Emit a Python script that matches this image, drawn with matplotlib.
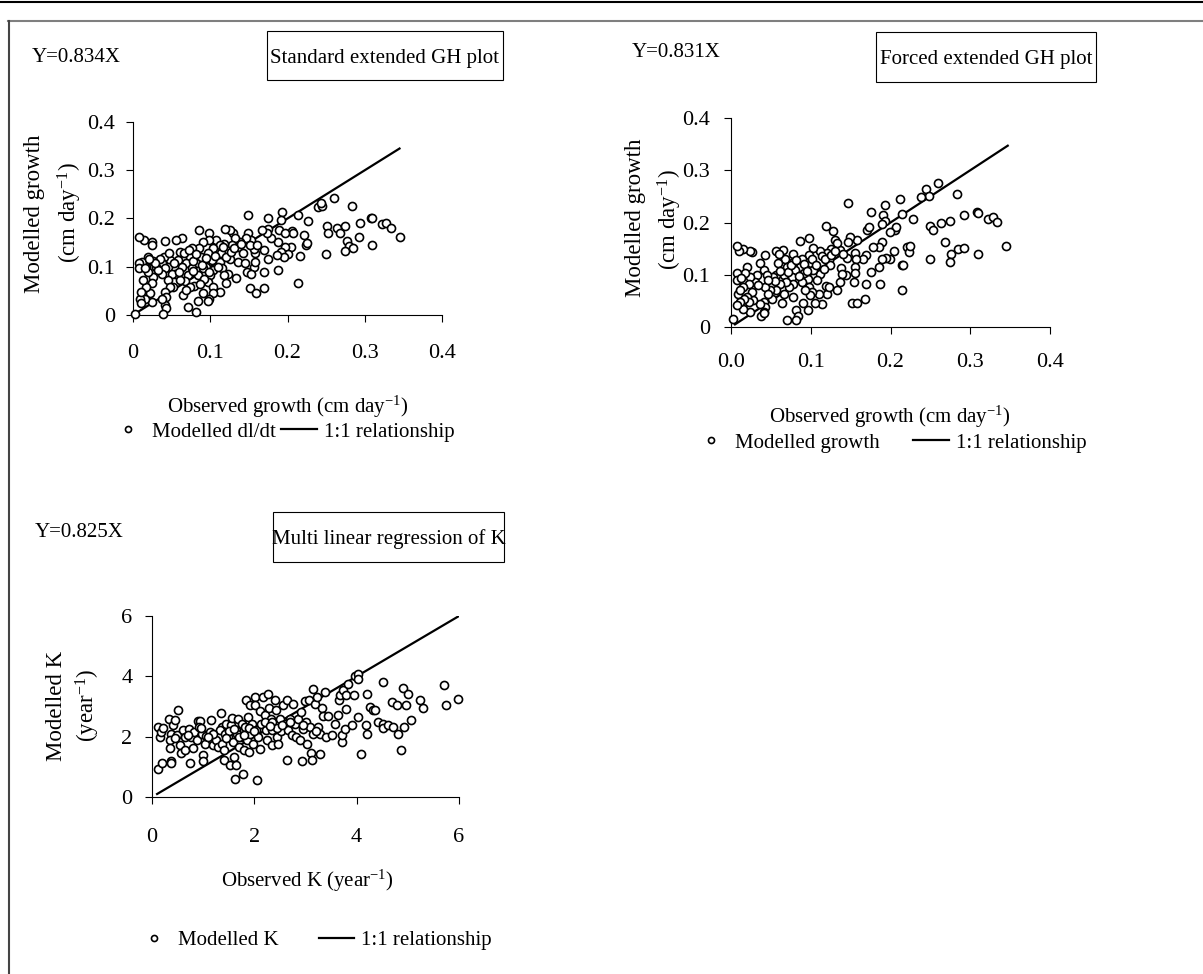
import numpy as np
import matplotlib
matplotlib.use("Agg")
import matplotlib.pyplot as plt
from matplotlib.lines import Line2D
from matplotlib.patches import Rectangle
from matplotlib.ticker import FixedLocator

plt.rcParams['font.family'] = ['Liberation Serif', 'DejaVu Serif']
plt.rcParams['mathtext.fontset'] = 'custom'
plt.rcParams['mathtext.rm'] = 'Liberation Serif'
plt.rcParams['mathtext.it'] = 'Liberation Serif:italic'

# ---- data (observed, modelled) ----
std_gh = [
    (0.149,0.207),(0.175,0.200),(0.193,0.214),(0.214,0.207),(0.227,0.194),(0.239,0.224),(0.245,0.226),(0.243,0.233),(0.260,0.243),(0.283,0.226),
    (0.251,0.185),(0.253,0.169),(0.264,0.181),(0.268,0.169),(0.275,0.184),(0.277,0.154),(0.279,0.143),(0.275,0.133),(0.285,0.138),(0.292,0.162),
    (0.294,0.191),(0.308,0.200),(0.310,0.200),(0.310,0.146),(0.322,0.188),(0.328,0.191),(0.334,0.181),(0.345,0.161),(0.250,0.126),(0.214,0.067),
    (0.216,0.123),(0.221,0.166),(0.224,0.145),(0.225,0.150),(0.206,0.174),(0.207,0.169),(0.204,0.141),(0.197,0.141),(0.200,0.126),(0.192,0.131),
    (0.195,0.121),(0.188,0.093),(0.186,0.124),(0.188,0.152),(0.189,0.176),(0.197,0.169),(0.191,0.197),(0.178,0.159),(0.175,0.179),(0.173,0.169),
    (0.167,0.176),(0.170,0.134),(0.175,0.117),(0.169,0.090),(0.170,0.055),(0.152,0.055),(0.159,0.045),(0.156,0.100),(0.158,0.110),(0.158,0.128),
    (0.156,0.136),(0.147,0.090),(0.153,0.085),(0.149,0.169),(0.153,0.155),(0.146,0.159),(0.151,0.145),(0.160,0.145),(0.138,0.152),(0.136,0.141),
    (0.136,0.110),(0.145,0.107),(0.130,0.169),(0.125,0.176),(0.132,0.159),(0.128,0.145),(0.133,0.077),(0.123,0.084),(0.119,0.179),(0.118,0.148),
    (0.121,0.134),(0.125,0.117),(0.108,0.155),(0.112,0.145),(0.114,0.128),(0.112,0.110),(0.115,0.097),(0.118,0.083),(0.121,0.067),(0.112,0.048),
    (0.099,0.169),(0.099,0.155),(0.104,0.138),(0.097,0.128),(0.102,0.114),(0.095,0.100),(0.104,0.093),(0.100,0.083),(0.097,0.069),(0.104,0.059),
    (0.104,0.045),(0.099,0.034),(0.097,0.028),(0.086,0.176),(0.091,0.152),(0.086,0.138),(0.088,0.121),(0.082,0.107),(0.091,0.097),(0.084,0.083),
    (0.092,0.074),(0.079,0.060),(0.091,0.045),(0.084,0.029),(0.082,0.007),(0.076,0.138),(0.074,0.121),(0.069,0.107),(0.076,0.097),(0.071,0.083),
    (0.067,0.070),(0.074,0.059),(0.065,0.041),(0.071,0.017),(0.064,0.159),(0.056,0.155),(0.061,0.131),(0.058,0.114),(0.063,0.100),(0.054,0.086),
    (0.061,0.072),(0.052,0.059),(0.048,0.114),(0.045,0.100),(0.050,0.086),(0.045,0.072),(0.048,0.059),(0.042,0.154),(0.040,0.121),(0.037,0.107),
    (0.041,0.097),(0.037,0.086),(0.041,0.048),(0.043,0.038),(0.041,0.021),(0.043,0.014),(0.039,0.003),(0.037,0.034),(0.030,0.100),(0.035,0.117),
    (0.026,0.112),(0.025,0.152),(0.025,0.145),(0.026,0.079),(0.024,0.066),(0.022,0.045),(0.024,0.026),(0.019,0.121),(0.017,0.100),(0.019,0.090),
    (0.017,0.059),(0.014,0.155),(0.012,0.110),(0.013,0.072),(0.013,0.034),(0.015,0.034),(0.008,0.162),(0.008,0.107),(0.008,0.097),(0.009,0.034),
    (0.011,0.024),(0.003,0.003),(0.011,0.048),
    (0.066,0.128),(0.072,0.135),(0.078,0.112),(0.082,0.126),(0.089,0.104),(0.094,0.118),(0.098,0.090),(0.106,0.122),(0.110,0.100),(0.116,0.140),
    (0.120,0.121),(0.127,0.131),(0.131,0.139),(0.140,0.148),(0.143,0.129),(0.060,0.090),(0.053,0.108),(0.046,0.128),(0.033,0.094),(0.029,0.108),
    (0.021,0.117),(0.015,0.097),(0.068,0.051),(0.078,0.092),(0.087,0.064),
]

forced_gh = [
    (0.147,0.238),(0.260,0.276),(0.245,0.264),(0.248,0.251),(0.238,0.248),(0.284,0.254),(0.212,0.245),(0.215,0.216),(0.193,0.234),(0.191,0.215),
    (0.175,0.221),(0.228,0.206),(0.193,0.202),(0.189,0.197),(0.292,0.215),(0.308,0.221),(0.310,0.218),(0.322,0.206),(0.328,0.210),(0.333,0.201),
    (0.263,0.200),(0.274,0.203),(0.250,0.194),(0.253,0.185),(0.268,0.163),(0.276,0.140),(0.274,0.125),(0.285,0.149),(0.292,0.151),(0.310,0.140),
    (0.345,0.155),(0.250,0.130),(0.214,0.071),(0.214,0.119),(0.216,0.119),(0.221,0.154),(0.223,0.144),(0.224,0.155),(0.204,0.146),(0.206,0.186),
    (0.207,0.191),(0.199,0.181),(0.199,0.130),(0.194,0.133),(0.189,0.130),(0.185,0.115),(0.187,0.083),(0.189,0.163),(0.185,0.154),(0.178,0.154),
    (0.175,0.106),(0.170,0.186),(0.173,0.191),(0.169,0.138),(0.165,0.131),(0.169,0.082),(0.168,0.053),(0.158,0.167),(0.156,0.141),(0.157,0.130),
    (0.156,0.115),(0.156,0.104),(0.154,0.087),(0.152,0.046),(0.158,0.046),(0.149,0.173),(0.147,0.163),(0.145,0.133),(0.144,0.099),(0.137,0.147),
    (0.138,0.112),(0.139,0.101),(0.137,0.087),(0.128,0.183),(0.130,0.167),(0.133,0.160),(0.126,0.149),(0.133,0.071),(0.119,0.194),(0.120,0.141),
    (0.123,0.128),(0.124,0.119),(0.119,0.078),(0.120,0.063),(0.123,0.077),(0.112,0.146),(0.114,0.135),(0.112,0.101),(0.110,0.064),(0.114,0.044),
    (0.103,0.151),(0.098,0.138),(0.100,0.122),(0.103,0.110),(0.097,0.091),(0.098,0.077),(0.101,0.067),(0.099,0.061),(0.105,0.045),(0.098,0.170),
    (0.097,0.033),(0.089,0.131),(0.087,0.115),(0.091,0.103),(0.089,0.087),(0.093,0.071),(0.090,0.046),(0.086,0.165),(0.082,0.032),(0.084,0.022),
    (0.082,0.013),(0.070,0.013),(0.078,0.140),(0.076,0.122),(0.080,0.110),(0.076,0.096),(0.078,0.083),(0.073,0.076),(0.078,0.058),(0.068,0.131),
    (0.070,0.115),(0.067,0.099),(0.069,0.087),(0.066,0.064),(0.064,0.046),(0.065,0.147),(0.057,0.146),(0.059,0.122),(0.057,0.099),(0.061,0.083),
    (0.057,0.071),(0.053,0.096),(0.051,0.054),(0.049,0.071),(0.043,0.138),(0.041,0.109),(0.045,0.099),(0.043,0.077),(0.047,0.064),(0.041,0.048),
    (0.043,0.038),(0.041,0.029),(0.038,0.022),(0.041,0.026),(0.036,0.044),(0.036,0.122),(0.032,0.099),(0.030,0.087),(0.028,0.051),(0.026,0.144),
    (0.024,0.146),(0.024,0.096),(0.026,0.067),(0.024,0.029),(0.020,0.115),(0.022,0.083),(0.020,0.058),(0.022,0.048),(0.015,0.149),(0.017,0.103),
    (0.015,0.077),(0.016,0.054),(0.015,0.035),(0.010,0.146),(0.007,0.155),(0.007,0.104),(0.007,0.090),(0.009,0.064),(0.011,0.048),(0.008,0.042),
    (0.003,0.016),(0.013,0.093),(0.011,0.071),
    (0.072,0.105),(0.075,0.118),(0.081,0.128),(0.085,0.098),(0.092,0.120),(0.095,0.108),(0.101,0.130),(0.106,0.118),(0.108,0.090),(0.116,0.111),
    (0.118,0.130),(0.126,0.138),(0.131,0.146),(0.141,0.140),(0.062,0.108),(0.055,0.088),(0.047,0.090),(0.034,0.080),(0.060,0.139),
]

k_mlr = [
    (0.12,0.92),(0.20,1.13),(0.38,1.18),(0.38,1.13),(0.12,2.32),(0.15,1.99),(0.18,2.15),(0.22,2.29),(0.33,2.57),(0.38,2.10),
    (0.35,1.88),(0.35,1.64),(0.41,2.38),(0.44,2.54),(0.51,2.90),(0.48,2.04),(0.54,1.71),(0.57,1.46),(0.61,2.21),(0.64,1.99),
    (0.65,1.57),(0.72,2.27),(0.75,1.13),(0.77,1.99),(0.80,1.64),(0.83,2.15),(0.90,2.52),(0.93,2.52),(0.92,2.32),(0.88,1.88),
    (0.97,2.10),(1.00,1.38),(1.00,1.19),(1.03,1.77),(1.06,2.01),(1.13,2.15),(1.16,2.56),(1.19,1.71),(1.25,1.90),(1.29,1.66),
    (1.34,2.78),(1.36,2.32),(1.32,2.21),(1.37,1.77),(1.40,1.57),(1.40,1.22),(1.42,2.08),(1.45,2.41),(1.49,1.99),(1.52,1.05),
    (1.55,2.38),(1.57,2.63),(1.59,1.82),(1.60,1.33),(1.62,0.61),(1.64,1.05),(1.65,2.21),(1.67,2.08),(1.68,2.60),(1.70,1.66),
    (1.75,2.43),(1.75,1.99),(1.78,0.77),(1.79,1.57),(1.81,2.32),(1.83,3.20),(1.86,1.88),(1.88,2.65),(1.90,1.49),(1.91,2.10),
    (1.92,3.04),(1.96,2.43),(1.98,1.77),(2.01,3.31),(2.01,3.04),(2.04,2.21),(2.05,0.57),(2.07,1.99),(2.11,1.60),(2.12,2.85),
    (2.14,2.43),(2.17,3.31),(2.20,2.71),(2.22,2.21),(2.24,1.88),(2.27,3.40),(2.29,2.96),(2.32,2.60),(2.34,2.21),(2.35,1.71),
    (2.40,3.23),(2.42,2.43),(2.43,2.87),(2.45,1.99),(2.47,1.77),(2.50,2.60),(2.53,2.19),(2.56,3.04),(2.60,2.43),(2.63,3.20),
    (2.64,1.24),(2.66,2.21),(2.69,2.60),(2.73,2.04),(2.76,3.09),(2.79,2.43),(2.81,1.99),(2.86,2.60),(2.89,1.88),(2.92,2.82),
    (2.94,1.19),(2.96,2.27),(2.99,3.18),(3.01,2.49),(3.03,1.77),(3.07,3.23),(3.09,2.32),(3.11,1.46),(3.12,1.24),(3.14,2.10),
    (3.15,3.59),(3.18,3.09),(3.23,3.31),(3.25,2.32),(3.28,1.44),(3.29,2.10),(3.32,2.96),(3.35,2.67),(3.38,3.48),(3.40,1.99),
    (3.44,2.67),(3.51,2.07),(3.57,2.43),(3.64,2.71),(3.66,3.20),(3.67,3.37),(3.71,1.82),(3.71,2.04),(3.74,3.54),(3.77,2.27),
    (3.80,2.93),(3.80,3.37),(3.84,3.76),(3.90,2.38),(3.95,3.37),(3.97,4.00),(4.03,4.09),(4.03,3.92),(4.03,2.65),(4.08,1.44),
    (4.19,2.38),(4.21,3.40),(4.21,2.10),(4.26,2.98),(4.32,2.87),(4.36,2.87),(4.42,2.49),(4.51,2.43),(4.52,3.81),(4.52,2.30),
    (4.62,2.38),(4.70,3.15),(4.71,2.32),(4.78,3.04),(4.80,2.10),(4.87,1.55),(4.91,3.62),(4.93,2.32),(4.96,3.04),(5.01,3.43),
    (5.07,2.54),(5.24,3.20),(5.29,2.95),(5.71,3.72),(5.75,3.04),(5.98,3.26),
    (1.20,2.10),(1.50,2.20),(1.70,2.00),(1.90,2.30),(2.20,2.50),(2.35,2.50),(2.45,2.30),(2.55,2.40),(1.45,1.95),(1.60,2.25),
    (1.80,2.05),(2.00,2.20),(2.30,2.35),(0.70,2.05),(0.45,1.95),(0.95,2.30),(1.10,2.00),(2.70,2.50),(2.95,2.40),(3.20,2.20),
]

# 1:1 line end points
line_growth_std = [0.005, 0.345]
line_growth_forced = [0.005, 0.347]
line_k = [0.10, 6.05]

growth_ticks = [0, 0.1, 0.2, 0.3, 0.4]
growth_labels = ["0", "0.1", "0.2", "0.3", "0.4"]
growth_labels_forced_x = ["0.0", "0.1", "0.2", "0.3", "0.4"]
k_ticks = [0, 2, 4, 6]
k_labels = ["0", "2", "4", "6"]

W, H = 1203, 974
fig = plt.figure(figsize=(W/100, H/100), dpi=100)
FS = 15

def px(x, y):
    return x / W, 1 - y / H

def make_axes(l, r, t, b):
    return fig.add_axes([l / W, 1 - b / H, (r - l) / W, (b - t) / H])

def style(ax, ticks, lim, xlabels, ylabels, xpad, ypad):
    ax.set_xlim(lim)
    ax.set_ylim(lim)
    for s in ["top", "right"]:
        ax.spines[s].set_visible(False)
    for s in ["left", "bottom"]:
        ax.spines[s].set_linewidth(0.8)
    ax.xaxis.set_major_locator(FixedLocator(ticks))
    ax.yaxis.set_major_locator(FixedLocator(ticks))
    ax.set_xticklabels(xlabels)
    ax.set_yticklabels(ylabels)
    ax.tick_params(axis="x", direction="out", length=5, width=0.8, labelsize=16, pad=xpad)
    ax.tick_params(axis="y", direction="out", length=5, width=0.8, labelsize=16, pad=ypad)
    ax.patch.set_alpha(0)

def panel(ax, pts, line, name, legend_y, handle_x, colspace):
    pts = np.array(pts)
    sc = ax.plot(pts[:, 0], pts[:, 1], "o", ms=5.8, mfc="white", mec="black",
                 mew=1.2, clip_on=False, zorder=3, label=name)[0]
    ln = ax.plot(line, line, "-", color="black", lw=1.6, zorder=2,
                 label="1:1 relationship")[0]
    lx, ly = px(handle_x, legend_y)
    ax.legend(handles=[sc, ln], ncol=2, frameon=False, fontsize=FS,
              loc="center left", bbox_to_anchor=(lx, ly), bbox_transform=fig.transFigure,
              borderpad=0, borderaxespad=0, handlelength=1.7, handletextpad=0.33,
              columnspacing=colspace, markerscale=0.75)

def box_title(l, r, t, b, text, baseline):
    fig.add_artist(Rectangle((l / W, 1 - b / H), (r - l) / W, (b - t) / H,
                             transform=fig.transFigure, fill=False, ec="black", lw=0.8))
    fig.text((l + r) / 2 / W, 1 - baseline / H, text, ha="center", va="baseline", fontsize=FS)

sup = r"$^{\mathrm{-1}}$"

# panel 1
ax1 = make_axes(133, 442, 122, 315)
style(ax1, growth_ticks, (0, 0.4), growth_labels, growth_labels, 16, 8)
panel(ax1, std_gh, line_growth_std, "Modelled dl/dt", 432, 110, 0.25)
fig.text(*px(32, 62), "Y=0.834X", fontsize=FS, va="baseline")
box_title(267, 503, 31, 80, "Standard extended GH plot", 63)
fig.text(*px(35, 214), "Modelled growth", rotation=90, ha="center", va="center", fontsize=16.5)
fig.text(*px(70, 213), "(cm day" + sup + ")", rotation=90, ha="center", va="center", fontsize=16.5)
fig.text(*px(288, 413), "Observed growth (cm day" + sup + ")", ha="center", va="baseline", fontsize=FS)

# panel 2
ax2 = make_axes(731, 1050, 118, 327)
style(ax2, growth_ticks, (0, 0.4), growth_labels_forced_x, growth_labels, 14, 10)
panel(ax2, forced_gh, line_growth_forced, "Modelled growth", 443, 693, 1.6)
fig.text(*px(632, 57), "Y=0.831X", fontsize=FS, va="baseline")
box_title(876, 1096, 32, 82, "Forced extended GH plot", 64)
fig.text(*px(635, 218), "Modelled growth", rotation=90, ha="center", va="center", fontsize=16.5)
fig.text(*px(670, 220), "(cm day" + sup + ")", rotation=90, ha="center", va="center", fontsize=16.5)
fig.text(*px(890, 423), "Observed growth (cm day" + sup + ")", ha="center", va="baseline", fontsize=FS)

# panel 3
ax3 = make_axes(152, 459, 616, 797)
style(ax3, k_ticks, (0, 6), k_labels, k_labels, 17, 9)
panel(ax3, k_mlr, line_k, "Modelled K", 940, 136, 1.9)
fig.text(*px(35, 537), "Y=0.825X", fontsize=FS, va="baseline")
box_title(273, 504, 512, 562, "Multi linear regression of K", 544)
fig.text(*px(57, 706), "Modelled K", rotation=90, ha="center", va="center", fontsize=16.5)
fig.text(*px(88, 705), "(year" + sup + ")", rotation=90, ha="center", va="center", fontsize=16.5)
fig.text(*px(307, 887), "Observed K (year" + sup + ")", ha="center", va="baseline", fontsize=FS)

# page frame
fig.add_artist(Line2D([0, 1], [1 - 2 / H] * 2, color="black", lw=1.5, transform=fig.transFigure))
fig.add_artist(Line2D([8 / W, 1], [1 - 20.5 / H] * 2, color="#7f7f7f", lw=1.5, transform=fig.transFigure))
fig.add_artist(Line2D([9 / W, 9 / W], [1 - 20.5 / H, 0], color="#444444", lw=1.5, transform=fig.transFigure))

fig.savefig("out.png", dpi=100)
